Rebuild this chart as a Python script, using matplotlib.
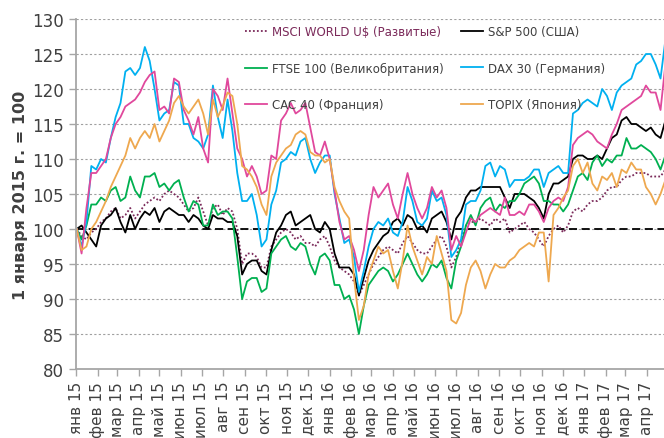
import matplotlib
matplotlib.use("Agg")
import matplotlib.pyplot as plt
import pandas as pd

# weekly values, 1 Jan 2015 = 100
start = "2015-01-02"
n_weeks = 122

msci = [100, 99, 98.5, 99.5, 100, 101, 101.5, 102.5, 103, 101.5, 102, 103, 101.5, 102.5, 103.5, 104, 104.5, 104, 105, 105.5,
        105, 104.5, 103.5, 102.5, 103, 104.5, 102.5, 100.5, 103, 103.5, 102, 103, 102.5, 100, 95, 96.5, 96.5, 96, 94.5, 94.5,
        97.5, 98.5, 99.5, 100, 99.5, 98.5, 99, 98, 98, 97.5, 98.5, 99, 97.5, 95.5, 94.5, 94, 93.5, 92.5, 90.5, 92,
        93.5, 95, 96, 97, 97.5, 97, 96.5, 98, 99, 98, 97, 96.5, 96.5, 97.5, 98.5, 99, 97.5, 94.5, 96, 98.5,
        100.5, 101, 101, 101.5, 101, 100.5, 101.5, 101, 101.5, 99.5, 100, 100.5, 101, 100, 99.5, 98.5, 97.5, 99, 100, 100.5,
        99.5, 100.5, 102.5, 103, 102.5, 103.5, 104, 104, 104.5, 105.5, 106, 106, 107, 107.5, 107.5, 108, 108, 108, 107.5, 107.5,
        107.5, 108.5]

sp500 = [100, 100.5, 99.5, 98.5, 97.5, 100.5, 101.5, 102, 103, 101, 99.5, 102, 100, 101.5, 102.5, 102, 103, 101, 102.5, 103,
         102.5, 102, 102, 101, 102, 101.5, 100.5, 100, 102, 101.5, 101.5, 101, 101, 99, 93.5, 95, 95.5, 95.5, 94, 93.5,
         97, 99.5, 100.5, 102, 102.5, 100.5, 101, 101.5, 102, 100, 99.5, 101, 100, 96.5, 94.5, 94.5, 94.5, 93.5, 90.5, 93,
         95.5, 97, 98, 99, 99.5, 101, 101.5, 100.5, 102, 101.5, 100, 100.5, 99.5, 101.5, 102, 102.5, 101, 98.5, 101.5, 102.5,
         104.5, 105.5, 105.5, 106, 106, 106, 106, 106, 104.5, 103, 105, 105, 105, 104.5, 104, 103, 101.5, 105, 106.5, 106.5,
         107, 107.5, 110, 110.5, 110.5, 110, 110, 110.5, 110, 111.5, 113, 113.5, 115.5, 116, 115, 115, 114.5, 114, 114.5, 113.5,
         113, 115.5]

ftse = [100, 98.5, 100.5, 103.5, 103.5, 104.5, 104, 105.5, 106, 104, 104.5, 107.5, 105.5, 104.5, 107.5, 107.5, 108, 106, 106.5, 105.5,
        106.5, 107, 104.5, 102.5, 104, 103.5, 100.5, 100.5, 103.5, 102, 102.5, 102.5, 101.5, 96, 90, 92.5, 93, 93, 91, 91.5,
        96.5, 97.5, 98.5, 99, 97.5, 97, 98, 97.5, 95, 93.5, 96, 96.5, 95.5, 92, 92, 90, 90.5, 88.5, 85, 89,
        92, 93, 94, 94.5, 94, 92.5, 93.5, 95, 96.5, 95, 93.5, 92.5, 93.5, 95, 94.5, 95.5, 93, 91.5, 95.5, 97.5,
        100.5, 102, 100.5, 103, 104, 104.5, 102.5, 103.5, 103, 104, 104, 105, 106.5, 107, 107.5, 106.5, 104, 104, 103.5, 103.5,
        102.5, 103.5, 105.5, 107.5, 108, 107, 109.5, 110.5, 109, 110, 109.5, 110.5, 110.5, 113, 111.5, 111.5, 112, 111.5, 111, 110,
        108.5, 110.5]

dax = [100, 97.5, 101, 109, 108.5, 110, 109.5, 113, 116, 118, 122.5, 123, 122, 123, 126, 124, 120, 115.5, 116.5, 117,
       121, 120.5, 115, 115, 113, 112.5, 111.5, 113.5, 120.5, 116, 113, 118.5, 114, 108, 104, 104, 105, 102, 97.5, 98.5,
       103.5, 105.5, 109.5, 110, 111, 110.5, 112.5, 113, 110, 108, 109.5, 110.5, 110.5, 105, 101.5, 98, 98.5, 96, 91, 94,
       97.5, 100, 101, 100.5, 101.5, 99.5, 99, 101, 106, 104, 101, 100.5, 101.5, 105.5, 104, 104.5, 102, 96, 97, 98.5,
       103.5, 104, 104, 105.5, 109, 109.5, 107.5, 109, 108.5, 106, 107, 107, 107, 107.5, 108.5, 108.5, 106, 108, 108.5, 109,
       108, 108, 116.5, 117, 118, 118.5, 118, 117.5, 120, 119, 117, 119.5, 120.5, 121, 121.5, 123.5, 124, 125, 125, 123.5,
       121.5, 127]

cac = [100, 96.5, 103, 108, 108, 109, 110, 113, 115, 116, 117.5, 118, 118.5, 119.5, 121, 122, 122.5, 117, 117.5, 116.5,
       121.5, 121, 117, 115.5, 113.5, 116, 111.5, 109.5, 120, 119, 117, 121.5, 116.5, 111.5, 110, 107.5, 109, 107.5, 105, 105.5,
       110.5, 110, 115.5, 116.5, 118, 116.5, 117, 118, 114.5, 111, 110.5, 112.5, 110, 105.5, 101, 98.5, 99, 97, 94, 97,
       102, 106, 104.5, 105.5, 106.5, 103.5, 101.5, 105, 108, 105, 103, 101.5, 103, 106, 104.5, 105.5, 103, 97, 99, 97.5,
       99.5, 101.5, 101, 102, 102.5, 103, 102.5, 102, 104.5, 102, 102, 102.5, 102, 103.5, 103.5, 102.5, 101, 103, 104, 104.5,
       104, 106, 112, 113, 113.5, 114, 113.5, 112.5, 112, 111.5, 113.5, 115, 117, 117.5, 118, 118.5, 119, 120.5, 119.5, 119.5,
       117, 123.5]

topix = [100, 97, 97.5, 100, 101, 102.5, 104, 106, 107.5, 109, 110.5, 113, 111.5, 113, 114, 113, 115, 112.5, 114, 115.5,
         118, 119, 117.5, 116.5, 117.5, 118.5, 116.5, 113.5, 118.5, 116, 117.5, 119.5, 119, 115, 109, 108.5, 107.5, 106, 103.5, 102,
         107.5, 109.5, 110.5, 111.5, 112, 113.5, 114, 113.5, 111, 110.5, 110.5, 109.5, 110, 106, 104, 102.5, 101.5, 93, 87, 89,
         93.5, 95.5, 97.5, 96.5, 97, 94, 91.5, 95.5, 100.5, 97.5, 95.5, 93.5, 96, 95, 99, 96.5, 94, 87, 86.5, 88,
         92, 94.5, 95.5, 94, 91.5, 93.5, 95, 94.5, 94.5, 95.5, 96, 97, 97.5, 98, 97.5, 99.5, 99.5, 92.5, 102, 103,
         104.5, 105.5, 109, 110, 108, 109.5, 106.5, 105.5, 107.5, 107, 108, 106, 108.5, 108, 109.5, 108.5, 108.5, 106, 105, 103.5,
         105, 107]

labels = ["MSCI WORLD U$ (Развитые)", "S&P 500 (США)", "FTSE 100 (Великобритания)",
          "DAX 30 (Германия)", "CAC 40 (Франция)", "TOPIX (Япония)"]
colors = ["#7b2a5a", "#000000", "#00b050", "#00b0f0", "#e0489c", "#eea84f"]
months = ["янв", "фев", "мар", "апр", "май", "июн", "июл", "авг", "сен", "окт", "ноя", "дек"]

dates = pd.date_range(start, periods=n_weeks, freq="7D")
tick_dates = pd.date_range("2015-01-01", "2017-04-01", freq="MS")
tick_labels = [f"{months[d.month - 1]} {d.year % 100}" for d in tick_dates]

fig = plt.figure(figsize=(6.64, 4.39), dpi=100)
ax = fig.add_axes([0.1145, 0.1572, 0.8855, 0.7972])

txt = "#404040"
gray = "#a6a6a6"

ax.set_ylim(80, 130)
ax.set_yticks(range(80, 131, 5))
ax.set_xlim(pd.Timestamp("2015-01-01"), pd.Timestamp("2017-04-26"))
ax.grid(axis="y", color="#a0a0a0", linestyle=(0, (2, 2)), linewidth=0.8)
ax.set_axisbelow(True)
ax.axhline(100, color="black", linestyle=(0, (4.5, 2.5)), linewidth=1.3, zorder=1.5)

handles = []
for vals, lab, col in zip([msci, sp500, ftse, dax, cac, topix], labels, colors):
    ls = (0, (1, 1.2)) if lab.startswith("MSCI") else "-"
    h, = ax.plot(dates, vals, color=col, lw=1.3, ls=ls, label=lab)
    handles.append(h)

ax.set_xticks(tick_dates)
ax.set_xticklabels(tick_labels, rotation=90)
ax.tick_params(axis="both", labelsize=12, labelcolor=txt, color=gray, length=5, width=1)
ax.tick_params(axis="x", labelsize=11)

for s in ["top", "right"]:
    ax.spines[s].set_visible(False)
for s in ["left", "bottom"]:
    ax.spines[s].set_color(gray)
    ax.spines[s].set_linewidth(1.3)

ax.set_ylabel("1 января 2015 г. = 100", fontsize=11.5, fontweight="bold", color=txt)
ax.yaxis.set_label_coords(-0.081, 0.5)

order = [0, 2, 4, 1, 3, 5]
leg = ax.legend([handles[i] for i in order], [labels[i] for i in order], ncol=2,
                loc="upper left", bbox_to_anchor=(245 / 664, 1 - 26 / 439),
                bbox_transform=fig.transFigure, frameon=False, fontsize=8.5,
                handlelength=1.9, handletextpad=0.4, labelspacing=2.0,
                columnspacing=1.45, borderpad=0, borderaxespad=0)
for t in leg.get_texts():
    t.set_color(txt)
leg.get_texts()[0].set_color(colors[0])

fig.savefig("out.png", dpi=100)
